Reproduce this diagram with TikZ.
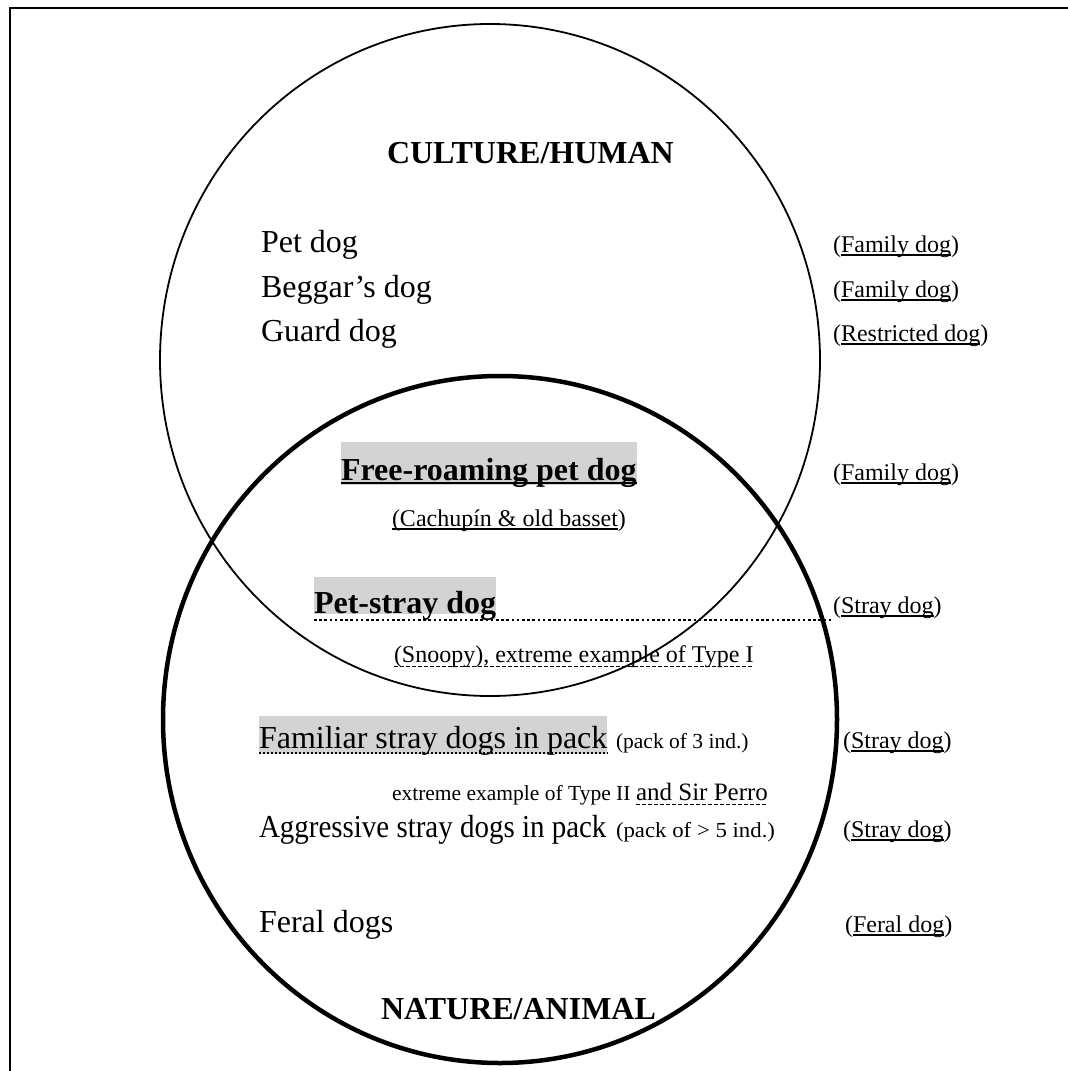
\documentclass[tikz,border=0pt]{standalone}
\usepackage{fontspec}
\setmainfont{Liberation Serif}
\newsavebox\ulxbox
\newcommand\ulx[1]{\sbox\ulxbox{#1}\rlap{\vrule height -2.3pt depth 3.8pt width \wd\ulxbox}\usebox\ulxbox}
\definecolor{hl}{RGB}{211,211,211}
\tikzset{
  txt/.style={anchor=base west, inner sep=0pt, outer sep=0pt},
  fbig/.style={font=\fontsize{32}{38}\selectfont},
  fbigb/.style={font=\fontsize{32}{38}\selectfont\bfseries},
  fmed/.style={font=\fontsize{24}{29}\selectfont},
  fsir/.style={font=\fontsize{25}{30}\selectfont},
  fsmall/.style={font=\fontsize{21.5}{26}\selectfont},
  hlbox/.style={fill=hl},
  frameline/.style={line width=2.5pt},
  thinell/.style={line width=1.8pt},
  thickell/.style={line width=4.5pt},
  dotline/.style={line width=2.2pt, dash pattern=on 2.6pt off 2.6pt},
  dotthin/.style={line width=1.2pt, dash pattern=on 2pt off 2pt},
  dashline/.style={line width=0.9pt, dash pattern=on 3.5pt off 2.5pt},
  solidul/.style={line width=2.4pt}
}
\begin{document}
\begin{tikzpicture}[x=1pt,y=-1pt]
\useasboundingbox (0,0) rectangle (1068,1071);
% frame
\draw[frameline] (1068,8) -- (10,8) -- (10,1071);
% circles
\draw[thinell] (490,360) ellipse [x radius=330pt, y radius=336pt];
\draw[thickell] (500,719.5) ellipse [x radius=337pt, y radius=343.5pt];

% upper region
\node[txt,fbigb] (ch) at (387,163) {CULTURE/HUMAN};
\node[txt,fbig] (pet) at (261,252) {Pet dog};
\node[txt,fbig] (beg) at (261,297) {Beggar’s dog};
\node[txt,fbig] (grd) at (261,341) {Guard dog};
\node[txt,fmed] (fam1) at (833,252) {(\ulx{Family dog})};
\node[txt,fmed] (fam2) at (833,297) {(\ulx{Family dog})};
\node[txt,fmed] (res) at (833,341) {(\ulx{Restricted dog})};

% intersection
\node[txt,fbigb,hlbox,text height=38pt,text depth=5pt] (fr) at (341,480) {Free-roaming pet dog};
\draw[solidul] ([yshift=-3pt]fr.base west) -- ([yshift=-3pt]fr.base east);
\node[txt,fmed] (fam3) at (833,480) {(\ulx{Family dog})};
\node[txt,fmed] (cach) at (392,526) {\ulx{(Cachupín \& old basset})};

\node[txt,fbigb,hlbox,text height=36pt,text depth=1pt] (ps) at (314,613) {Pet-stray dog};
\node[txt,fmed] (sd1) at (833,613) {(\ulx{Stray dog})};
\coordinate (d0) at ([yshift=-7pt]ps.base west);
\coordinate (d1) at ([xshift=-1pt]d0 -| sd1.west);
\draw[dotline] (d0) -- (d1);
\node[txt,fmed] (sn) at (394,662) {(Snoopy), extreme example of Type I};
\draw[dashline] ([yshift=-4pt]sn.base west) -- ([yshift=-4pt]sn.base east);

% lower region
\node[txt,fbig,hlbox,text height=32pt,text depth=6pt] (fam) at (259,748) {Familiar stray dogs in pack};
\draw[dotthin] ([yshift=-5pt]fam.base west) -- ([yshift=-5pt]fam.base east);
\node[txt,fsmall] (p3) at (616,748) {(pack of 3 ind.)};
\node[txt,fmed] (sd2) at (843,748) {(\ulx{Stray dog})};
\node[txt,fsmall] (ex2) at (392,800) {extreme example of Type II};
\node[txt,fsir] (sir) at (636,800) {and Sir Perro};
\draw[dashline] ([yshift=-4pt]sir.base west) -- ([yshift=-4pt]sir.base east);
\node[txt,fbig] (agg) at (259,837) {\scalebox{0.905}[1]{Aggressive stray dogs in pack}};
\node[txt,fsmall] (p5) at (616,837) {\scalebox{1.06}[1]{(pack of > 5 ind.)}};
\node[txt,fmed] (sd3) at (843,837) {(\ulx{Stray dog})};
\node[txt,fbig] (fer) at (259,932) {Feral dogs};
\node[txt,fmed] (fd) at (845,932) {(\ulx{Feral dog})};
\node[txt,fbigb] (na) at (381,1019) {NATURE/ANIMAL};
\end{tikzpicture}
\end{document}
